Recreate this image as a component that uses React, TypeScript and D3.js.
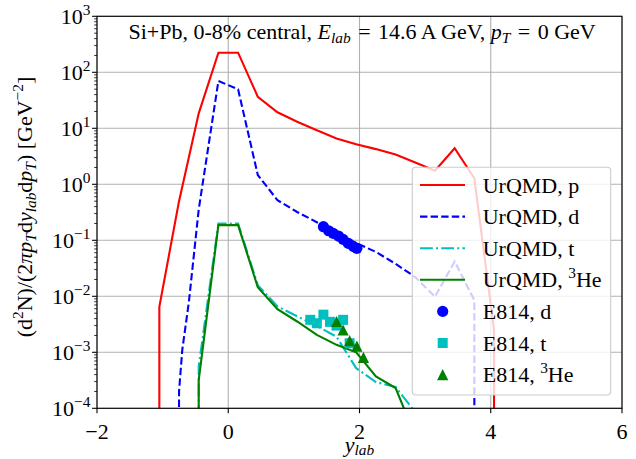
import React from "react";
import * as d3 from "d3";

// ---------- data ----------
const rapP = [-1.05, -1.05, -0.75, -0.45, -0.15, 0.15, 0.45, 0.75, 1.05, 1.35, 1.65, 1.95, 2.25, 2.55, 2.85, 3.15, 3.45, 3.75, 4.05, 4.05];
const urqmdP = [1e-8, 6.5e-3, 0.5, 18.5, 224, 224, 36.6, 19.3, 13.1, 9.2, 6.6, 5.2, 4.25, 3.4, 2.45, 1.75, 4.4, 1.28, 2.5e-3, 1e-8];

const rapD = [-0.75, -0.75, -0.7, -0.6, -0.45, -0.15, 0.15, 0.45, 0.75, 1.05, 1.35, 1.65, 1.95, 2.25, 2.55, 2.85, 3.15, 3.45, 3.75, 3.75];
const urqmdD = [1e-8, 2.0e-4, 1.12e-3, 7.9e-3, 0.355, 70, 49.7, 1.47, 0.52, 0.32, 0.21, 0.138, 0.089, 0.062, 0.038, 0.022, 0.0098, 0.042, 0.0085, 1e-8];

const rapT = [-0.45, -0.45, -0.15, 0.15, 0.45, 0.75, 1.05, 1.35, 1.65, 1.95, 2.25, 2.55, 2.85];
const urqmdT = [1e-8, 5.6e-4, 0.2, 0.2, 0.0158, 6.6e-3, 4.4e-3, 2.95e-3, 1.9e-3, 5.2e-4, 2.95e-4, 2.4e-4, 8.5e-5];

const rapHe = [-0.45, -0.45, -0.15, 0.15, 0.45, 0.75, 1.05, 1.35, 1.65, 1.95, 2.25, 2.55, 2.85];
const urqmdHe = [1e-8, 3.2e-4, 0.187, 0.187, 0.0145, 5.9e-3, 3.55e-3, 2.05e-3, 1.36e-3, 1.0e-3, 3.7e-4, 2.3e-4, 3.2e-5];

const e814DX = [1.45, 1.53, 1.60, 1.68, 1.75, 1.83, 1.91, 1.96];
const e814DY = [0.175, 0.148, 0.133, 0.119, 0.104, 0.088, 0.077, 0.072];

const e814TX = [1.25, 1.35, 1.45, 1.55, 1.65, 1.75, 1.85];
const e814TY = [3.8e-3, 3.3e-3, 4.7e-3, 3.5e-3, 3.0e-3, 3.8e-3, 1.45e-3];

const e814HeX = [1.65, 1.75, 1.85, 1.96, 2.06];
const e814HeY = [3.55e-3, 2.5e-3, 1.62e-3, 1.29e-3, 8.1e-4];

const xTicks = [-2, 0, 2, 4, 6];
const xTickLabels = ["\u22122", "0", "2", "4", "6"];
const yExps = [3, 2, 1, 0, -1, -2, -3, -4];
const yExpLabels = ["3", "2", "1", "0", "\u22121", "\u22122", "\u22123", "\u22124"];

// ---------- layout ----------
const W = 636, H = 459;
const L = 97, R = 622, T = 16.3, B = 408.3;
const FONT = "Liberation Serif, DejaVu Serif, serif";
const FS = 22;
const SS = 15.4;

const RED = "#ff0000", BLUE = "#0000ff", CYAN = "#00bfbf", GREEN = "#008000";
const txt: React.CSSProperties = { fontFamily: FONT, fontSize: FS };
const txtPre: React.CSSProperties = { fontFamily: FONT, fontSize: FS, whiteSpace: "pre" };

export default function App() {
  const x = d3.scaleLinear().domain([-2, 6]).range([L, R]);
  const y = d3.scaleLog().domain([1e-4, 1e3]).range([B, T]);

  const mk = (xs: number[], ys: number[]) => xs.map((v, i) => [v, ys[i]] as [number, number]);
  const line = d3.line<[number, number]>().x(d => x(d[0])).y(d => Math.min(y(d[1]), B + 200));

  const minor: number[] = [];
  for (let e = -4; e < 3; e++) for (let k = 2; k <= 9; k++) minor.push(k * Math.pow(10, e));

  const triPath = (cx: number, cy: number, s: number) =>
    `M${cx},${cy - s}L${cx - s},${cy + s}L${cx + s},${cy + s}Z`;

  const legendRows = [
    { label: "UrQMD, p", kind: "line", color: RED, dash: "" },
    { label: "UrQMD, d", kind: "line", color: BLUE, dash: "7.4,3.2" },
    { label: "UrQMD, t", kind: "line", color: CYAN, dash: "12.8,3.2,2,3.2" },
    { label: "UrQMD, ", sup: "3", after: "He", kind: "line", color: GREEN, dash: "" },
    { label: "E814, d", kind: "circle", color: BLUE },
    { label: "E814, t", kind: "square", color: CYAN },
    { label: "E814, ", sup: "3", after: "He", kind: "tri", color: GREEN },
  ];
  const legX = 412.3, legY = 167.3, legW = 198.4, legH = 227.7;
  const rowY0 = 185, rowDy = 31.6;

  return (
    <div style={{ position: "absolute", left: 0, top: 0 }}>
      <svg width={W} height={H} style={{ display: "block", background: "#fff" }}>
        <defs>
          <clipPath id="plotclip">
            <rect x={L} y={T} width={R - L} height={B - T} />
          </clipPath>
        </defs>
        {/* grid */}
        <g stroke="#b0b0b0" strokeWidth={1.1}>
          {xTicks.map(t => (
            <line key={"gx" + t} x1={x(t)} x2={x(t)} y1={T} y2={B} />
          ))}
          {yExps.map(e => (
            <line key={"gy" + e} x1={L} x2={R} y1={y(Math.pow(10, e))} y2={y(Math.pow(10, e))} />
          ))}
        </g>

        {/* title */}
        <text x={128.5} y={38.5} style={txtPre} fill="#000">
          <tspan>{"Si+Pb, 0-8% central, "}</tspan>
          <tspan fontStyle="italic">E</tspan>
          <tspan fontStyle="italic" fontSize={SS} dy={4}>lab</tspan>
          <tspan dy={-4} dx={2}>{" = "}</tspan>
          <tspan dx={2}>{"14.6 A GeV, "}</tspan>
          <tspan fontStyle="italic">p</tspan>
          <tspan fontStyle="italic" fontSize={SS} dy={4}>T</tspan>
          <tspan dy={-4} dx={2}>{" = "}</tspan>
          <tspan dx={2}>{"0 GeV"}</tspan>
        </text>

        {/* curves */}
        <g clipPath="url(#plotclip)" fill="none" strokeWidth={2.1}>
          <path d={line(mk(rapP, urqmdP)) || ""} stroke={RED} />
          <path d={line(mk(rapD, urqmdD)) || ""} stroke={BLUE} strokeDasharray="7.4,3.2" />
          <path d={line(mk(rapT, urqmdT)) || ""} stroke={CYAN} strokeDasharray="12.8,3.2,2,3.2" />
          <path d={line(mk(rapHe, urqmdHe)) || ""} stroke={GREEN} />
        </g>

        {/* data points */}
        <g clipPath="url(#plotclip)">
          {e814DX.map((v, i) => (
            <circle key={"d" + i} cx={x(v)} cy={y(e814DY[i])} r={5.6} fill={BLUE} />
          ))}
          {e814TX.map((v, i) => (
            <rect key={"t" + i} x={x(v) - 5} y={y(e814TY[i]) - 5} width={10} height={10} fill={CYAN} />
          ))}
          {e814HeX.map((v, i) => (
            <path key={"h" + i} d={triPath(x(v), y(e814HeY[i]), 5.6)} fill={GREEN} />
          ))}
        </g>

        {/* frame */}
        <rect x={L} y={T} width={R - L} height={B - T} fill="none" stroke="#000" strokeWidth={1.1} />

        {/* ticks */}
        <g stroke="#000" strokeWidth={1.1}>
          {xTicks.map(t => (
            <line key={"xt" + t} x1={x(t)} x2={x(t)} y1={B} y2={B + 4.9} />
          ))}
          {yExps.map(e => (
            <line key={"yt" + e} x1={L - 4.9} x2={L} y1={y(Math.pow(10, e))} y2={y(Math.pow(10, e))} />
          ))}
          {minor.map((m, i) => (
            <line key={"ym" + i} x1={L - 2.8} x2={L} y1={y(m)} y2={y(m)} strokeWidth={0.8} />
          ))}
        </g>
        <g fill="#000">
          {xTicks.map((t, i) => (
            <text key={"xl" + t} x={x(t)} y={438.5} textAnchor="middle" style={txt}>{xTickLabels[i]}</text>
          ))}
          {yExps.map((e, i) => (
            <text key={"yl" + e} x={90.5} y={y(Math.pow(10, e)) + 7.5} textAnchor="end" style={txt}>
              <tspan>10</tspan>
              <tspan fontSize={SS} dy={-9}>{yExpLabels[i]}</tspan>
            </text>
          ))}
        </g>

        {/* axis labels */}
        <text x={359.5} y={452} textAnchor="middle" fill="#000" style={txt}>
          <tspan fontStyle="italic">y</tspan>
          <tspan fontStyle="italic" fontSize={SS} dy={3}>lab</tspan>
        </text>
        <text transform="translate(32,207) rotate(-90)" textAnchor="middle" fill="#000" style={txt}>
          <tspan>(d</tspan>
          <tspan fontSize={SS} dy={-9}>2</tspan>
          <tspan dy={9}>N)/(2</tspan>
          <tspan fontStyle="italic">πp</tspan>
          <tspan fontStyle="italic" fontSize={SS} dy={4}>T</tspan>
          <tspan dy={-4}>d</tspan>
          <tspan fontStyle="italic">y</tspan>
          <tspan fontStyle="italic" fontSize={SS} dy={4}>lab</tspan>
          <tspan dy={-4}>d</tspan>
          <tspan fontStyle="italic">p</tspan>
          <tspan fontStyle="italic" fontSize={SS} dy={4}>T</tspan>
          <tspan dy={-4}>) [GeV</tspan>
          <tspan fontSize={SS} dy={-9}>{"\u22122"}</tspan>
          <tspan dy={9}>]</tspan>
        </text>

        {/* legend */}
        <g>
          <rect x={legX} y={legY} width={legW} height={legH} rx={3.5} fill="#fff" fillOpacity={0.8} stroke="#cccccc" strokeWidth={1.1} />
          {legendRows.map((r, i) => {
            const cy = rowY0 + i * rowDy;
            let handle: React.ReactNode = null;
            if (r.kind === "line") {
              handle = <line x1={420} x2={465} y1={cy} y2={cy} stroke={r.color} strokeWidth={2.1} strokeDasharray={r.dash || undefined} />;
            } else if (r.kind === "circle") {
              handle = <circle cx={442.7} cy={cy} r={5.6} fill={r.color} />;
            } else if (r.kind === "square") {
              handle = <rect x={437.7} y={cy - 5} width={10} height={10} fill={r.color} />;
            } else {
              handle = <path d={triPath(442.7, cy, 5.6)} fill={r.color} />;
            }
            return (
              <g key={"lg" + i}>
                {handle}
                <text x={482.7} y={cy + 7.5} fill="#000" style={txtPre}>
                  <tspan>{r.label}</tspan>
                  {r.sup ? <tspan fontSize={SS} dy={-9}>{r.sup}</tspan> : null}
                  {r.after ? <tspan dy={9}>{r.after}</tspan> : null}
                </text>
              </g>
            );
          })}
        </g>
      </svg>
    </div>
  );
}
